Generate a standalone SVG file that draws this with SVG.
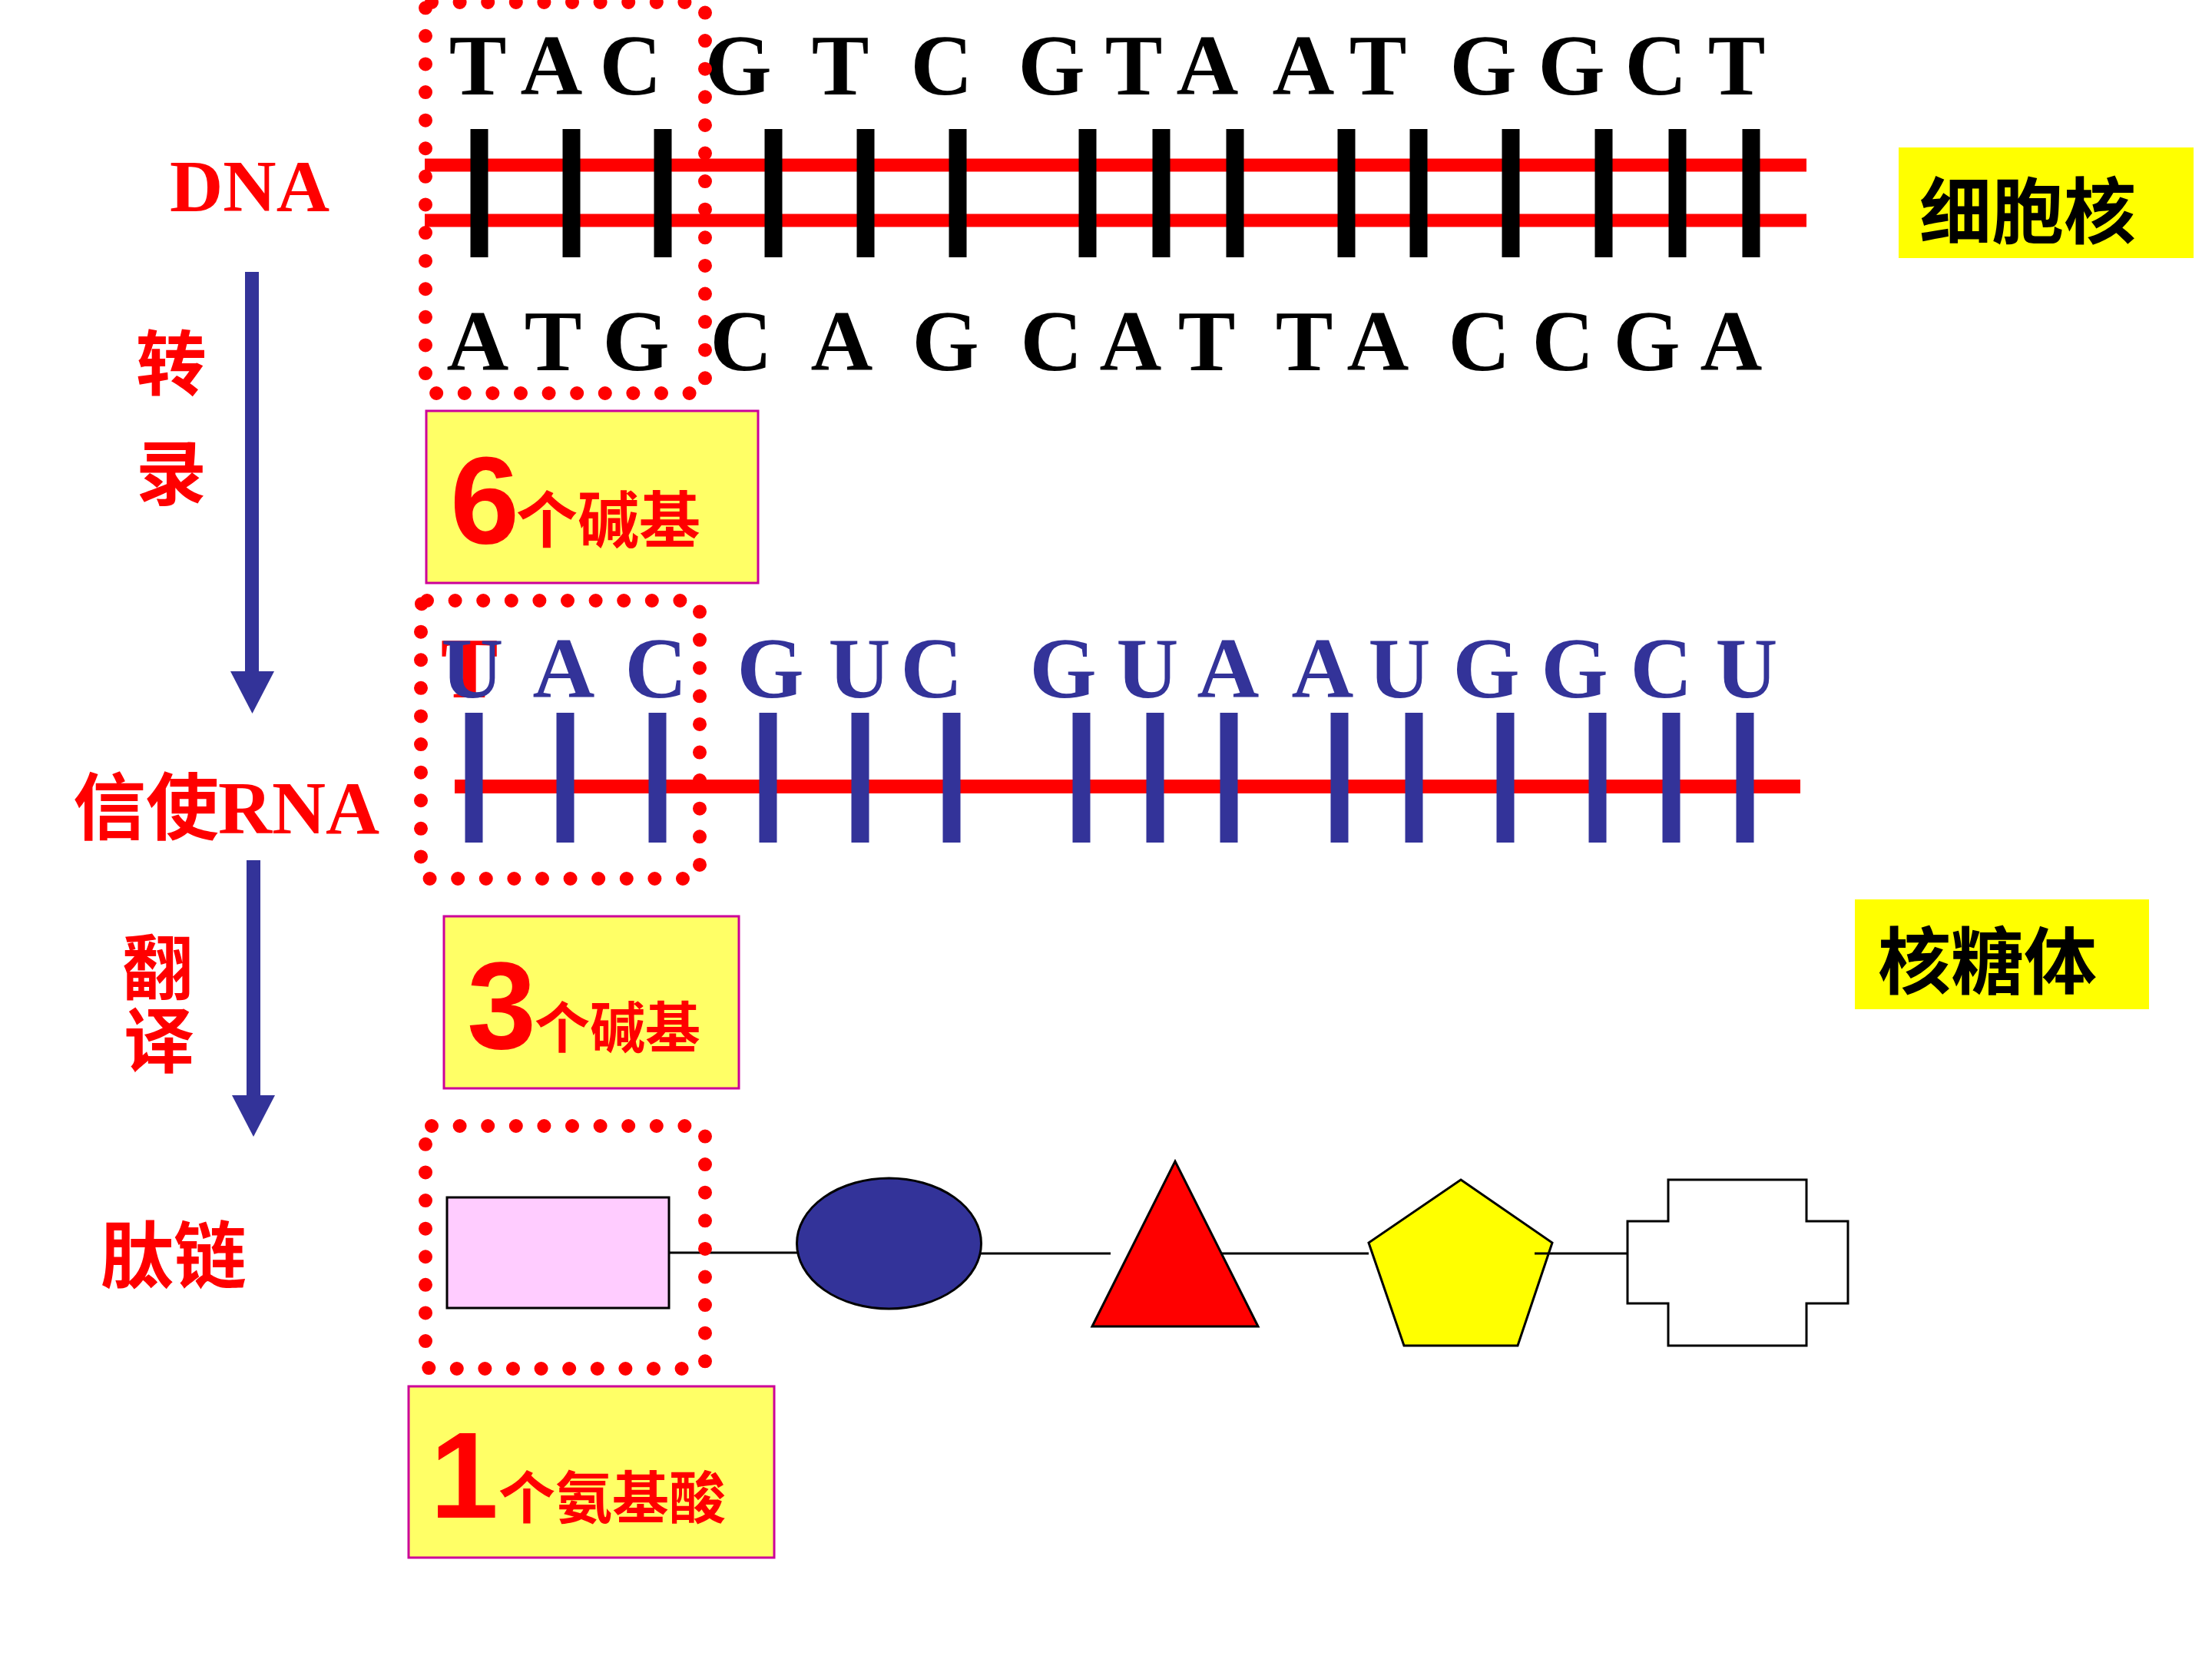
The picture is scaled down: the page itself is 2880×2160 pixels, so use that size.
<svg xmlns="http://www.w3.org/2000/svg" width="2880" height="2160" viewBox="0 0 2880 2160">
<style>
.bg{fill:#FFFFFF}
.base{font-family:"Liberation Serif","Times New Roman",serif;font-weight:bold;font-size:112px;text-anchor:middle}
.blk{fill:#000000}
.blu{fill:#333399}
.red{fill:#FF0000}
.cjk{font-family:"Noto Sans CJK SC",sans-serif;font-weight:bold}
.lbl{font-family:"Noto Sans CJK SC",sans-serif;font-weight:bold;fill:#FF0000;font-size:92px}
.num{font-family:"Liberation Sans",Arial,sans-serif;font-weight:bold;fill:#FF0000}
.strand{stroke:#FF0000;stroke-width:17;fill:none}
.rungk{stroke:#000000;stroke-width:23}
.rungb{stroke:#333399;stroke-width:23}
.dots{fill:none;stroke:#FF0000;stroke-width:18;stroke-linecap:round;stroke-dasharray:0 36.6}
.note{fill:#FFFF66;stroke:#CC0099;stroke-width:3}
.loc{fill:#FFFF00}
.aa{stroke:#000000;stroke-width:3}
.bond{stroke:#000000;stroke-width:3;fill:none}
.shaft{stroke:#333399;stroke-width:18;fill:none}
.head{fill:#333399}
</style>
<rect class="bg" x="0" y="0" width="2880" height="2160"/>

<!-- Left labels -->
<g id="label-dna">
  <text x="221" y="275" font-family="Liberation Serif, Times New Roman, serif" font-weight="bold" font-size="96" fill="#FF0000">DNA</text>
</g>
<g id="label-transcription">
  <text class="lbl" x="177" y="507">转</text>
  <text class="lbl" x="177" y="650">录</text>
</g>
<g id="label-mrna">
  <text class="lbl" x="95" y="1086" font-size="95" style="font-size:95px">信使</text>
  <text x="284" y="1085" font-family="Liberation Serif, Times New Roman, serif" font-weight="bold" font-size="97" fill="#FF0000">RNA</text>
</g>
<g id="label-translation">
  <text class="lbl" x="159" y="1294">翻</text>
  <text class="lbl" x="161" y="1389">译</text>
</g>
<g id="label-peptide">
  <text class="lbl" x="131" y="1670" style="font-size:95px">肽链</text>
</g>

<!-- DNA double strand -->
<g id="dna">
  <line class="strand" x1="553" y1="215" x2="2352" y2="215"/>
  <line class="strand" x1="553" y1="287" x2="2352" y2="287"/>
  <g>
    <line class="rungk" x1="624" y1="168" x2="624" y2="335"/>
    <line class="rungk" x1="744" y1="168" x2="744" y2="335"/>
    <line class="rungk" x1="863" y1="168" x2="863" y2="335"/>
    <line class="rungk" x1="1007" y1="168" x2="1007" y2="335"/>
    <line class="rungk" x1="1127" y1="168" x2="1127" y2="335"/>
    <line class="rungk" x1="1247" y1="168" x2="1247" y2="335"/>
    <line class="rungk" x1="1416" y1="168" x2="1416" y2="335"/>
    <line class="rungk" x1="1512" y1="168" x2="1512" y2="335"/>
    <line class="rungk" x1="1608" y1="168" x2="1608" y2="335"/>
    <line class="rungk" x1="1753" y1="168" x2="1753" y2="335"/>
    <line class="rungk" x1="1847" y1="168" x2="1847" y2="335"/>
    <line class="rungk" x1="1967" y1="168" x2="1967" y2="335"/>
    <line class="rungk" x1="2088" y1="168" x2="2088" y2="335"/>
    <line class="rungk" x1="2184" y1="168" x2="2184" y2="335"/>
    <line class="rungk" x1="2280" y1="168" x2="2280" y2="335"/>
  </g>
  <g class="base blk">
    <text x="622" y="123">T</text>
    <text x="718" y="123">A</text>
    <text x="821" y="123">C</text>
    <text x="961" y="123">G</text>
    <text x="1094" y="123">T</text>
    <text x="1226" y="123">C</text>
    <text x="1369" y="123">G</text>
    <text x="1476" y="123">T</text>
    <text x="1572" y="123">A</text>
    <text x="1697" y="123">A</text>
    <text x="1794" y="123">T</text>
    <text x="1931" y="123">G</text>
    <text x="2046" y="123">G</text>
    <text x="2156" y="123">C</text>
    <text x="2261" y="123">T</text>
  </g>
  <g class="base blk">
    <text x="622" y="482">A</text>
    <text x="720" y="482">T</text>
    <text x="828" y="482">G</text>
    <text x="965" y="482">C</text>
    <text x="1096" y="482">A</text>
    <text x="1231" y="482">G</text>
    <text x="1369" y="482">C</text>
    <text x="1472" y="482">A</text>
    <text x="1571" y="482">T</text>
    <text x="1698" y="482">T</text>
    <text x="1794" y="482">A</text>
    <text x="1926" y="482">C</text>
    <text x="2035" y="482">C</text>
    <text x="2144" y="482">G</text>
    <text x="2254" y="482">A</text>
  </g>
</g>

<!-- mRNA -->
<g id="mrna">
  <line class="strand" x1="592" y1="1024" x2="2344" y2="1024" style="stroke-width:18"/>
  <g>
    <line class="rungb" x1="617" y1="928" x2="617" y2="1097"/>
    <line class="rungb" x1="736" y1="928" x2="736" y2="1097"/>
    <line class="rungb" x1="856" y1="928" x2="856" y2="1097"/>
    <line class="rungb" x1="1000" y1="928" x2="1000" y2="1097"/>
    <line class="rungb" x1="1120" y1="928" x2="1120" y2="1097"/>
    <line class="rungb" x1="1239" y1="928" x2="1239" y2="1097"/>
    <line class="rungb" x1="1408" y1="928" x2="1408" y2="1097"/>
    <line class="rungb" x1="1504" y1="928" x2="1504" y2="1097"/>
    <line class="rungb" x1="1600" y1="928" x2="1600" y2="1097"/>
    <line class="rungb" x1="1744" y1="928" x2="1744" y2="1097"/>
    <line class="rungb" x1="1841" y1="928" x2="1841" y2="1097"/>
    <line class="rungb" x1="1960" y1="928" x2="1960" y2="1097"/>
    <line class="rungb" x1="2080" y1="928" x2="2080" y2="1097"/>
    <line class="rungb" x1="2176" y1="928" x2="2176" y2="1097"/>
    <line class="rungb" x1="2272" y1="928" x2="2272" y2="1097"/>
  </g>
  <text class="base red" x="611" y="908">T</text>
  <g class="base blu">
    <text x="615" y="908">U</text>
    <text x="734" y="908">A</text>
    <text x="854" y="908">C</text>
    <text x="1003" y="908">G</text>
    <text x="1119" y="908">U</text>
    <text x="1213" y="908">C</text>
    <text x="1384" y="908">G</text>
    <text x="1494" y="908">U</text>
    <text x="1599" y="908">A</text>
    <text x="1722" y="908">A</text>
    <text x="1822" y="908">U</text>
    <text x="1935" y="908">G</text>
    <text x="2050" y="908">G</text>
    <text x="2163" y="908">C</text>
    <text x="2274" y="908">U</text>
  </g>
</g>

<!-- Peptide chain -->
<g id="peptide">
  <line class="bond" x1="871" y1="1631" x2="1038" y2="1631"/>
  <line class="bond" x1="1277" y1="1632" x2="1446" y2="1632"/>
  <line class="bond" x1="1591" y1="1632" x2="1782" y2="1632"/>
  <rect id="aa1" class="aa" x="582" y="1559" width="289" height="144" fill="#FFCCFF"/>
  <ellipse id="aa2" class="aa" cx="1157.5" cy="1619" rx="120" ry="85" fill="#333399"/>
  <polygon id="aa3" class="aa" points="1422,1727 1530,1512 1638,1727" fill="#FF0000"/>
  <polygon id="aa4" class="aa" points="1902,1536 2021,1618 1976,1752 1828,1752 1782,1618" fill="#FFFF00"/>
  <line class="bond" x1="1998" y1="1632" x2="2119" y2="1632"/>
  <polygon id="aa5" class="aa" points="2172,1536 2352,1536 2352,1590 2406,1590 2406,1697 2352,1697 2352,1752 2172,1752 2172,1697 2119,1697 2119,1590 2172,1590" fill="#FFFFFF"/>
</g>

<!-- Dotted highlight boxes -->
<g id="highlight-dna">
  <rect class="dots" x="554" y="3" width="364" height="509" rx="8"/>
</g>
<g id="highlight-mrna">
  <rect class="dots" x="548" y="782" width="363" height="362" rx="8"/>
</g>
<g id="highlight-aa">
  <rect class="dots" x="554" y="1466" width="364" height="316" rx="8"/>
</g>

<!-- Notes -->
<g id="note-6">
  <rect class="note" x="555" y="535" width="432" height="224"/>
  <text class="num" x="586" y="707" font-size="162">6</text>
  <text class="cjk red" x="672" y="706" font-size="80">个碱基</text>
</g>
<g id="note-3">
  <rect class="note" x="578" y="1193" width="384" height="224"/>
  <text class="num" x="608" y="1365" font-size="162">3</text>
  <text class="cjk red" x="696" y="1364" font-size="72">个碱基</text>
</g>
<g id="note-1">
  <rect class="note" x="532" y="1805" width="476" height="223"/>
  <text class="num" x="560" y="1976" font-size="160">1</text>
  <text class="cjk red" x="649" y="1977" font-size="74">个氨基酸</text>
</g>
<g id="nucleus">
  <rect class="loc" x="2472" y="192" width="384" height="144"/>
  <text class="cjk blk" x="2499" y="310" font-size="94">细胞核</text>
</g>
<g id="ribosome">
  <rect class="loc" x="2415" y="1171" width="383" height="143"/>
  <text class="cjk blk" x="2445" y="1287" font-size="95">核糖体</text>
</g>

<!-- Connectors -->
<g id="connectors">
  <line class="shaft" x1="328" y1="354" x2="328" y2="880"/>
  <polygon class="head" points="300,874 357,874 328.5,929"/>
  <line class="shaft" x1="330" y1="1120" x2="330" y2="1432"/>
  <polygon class="head" points="302,1426 358,1426 330,1480"/>
</g>
</svg>
